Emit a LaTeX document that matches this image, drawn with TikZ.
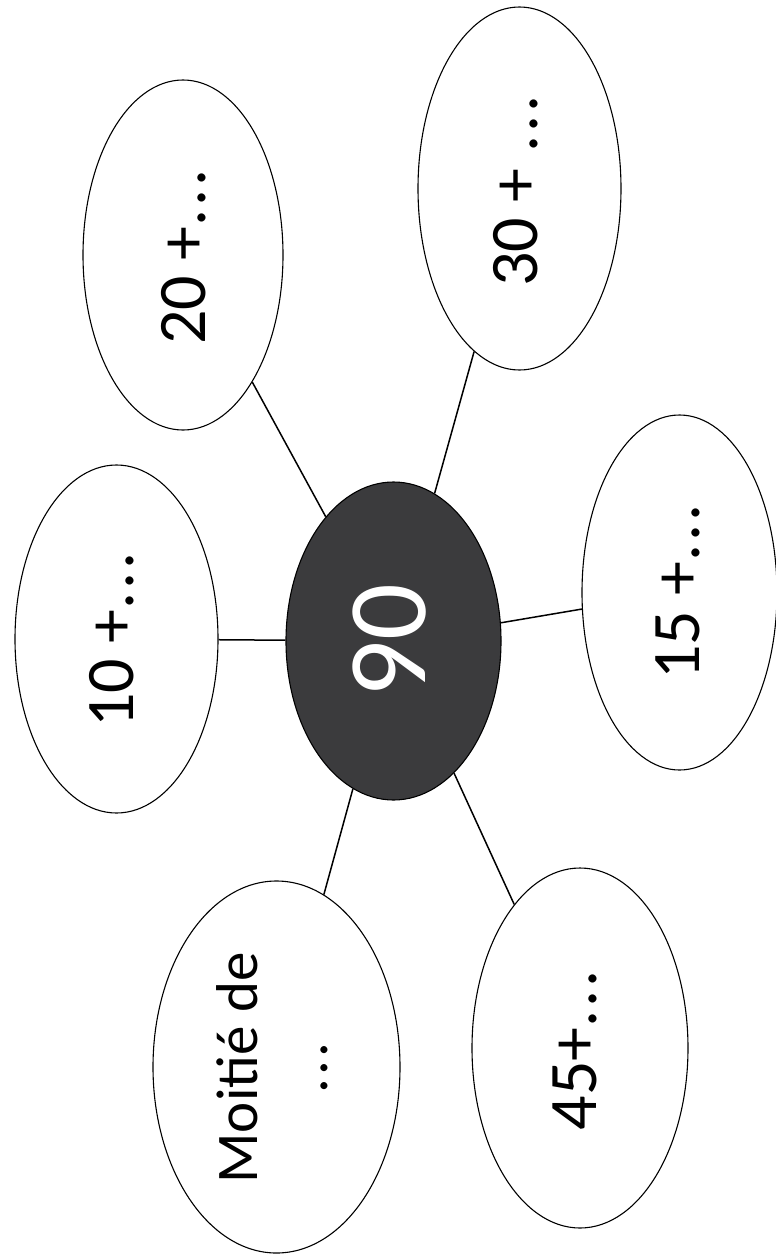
\documentclass[tikz,border=0pt]{standalone}
\usepackage{fontspec}
\setmainfont{Carlito}
\usetikzlibrary{shapes.geometric}
\definecolor{hubfill}{HTML}{3B3B3D}
\newcommand{\mydots}{.\kern3pt.\kern3pt.}
\tikzset{
  bub/.style={ellipse, draw=black, line width=1.1pt, fill=white, inner sep=0pt},
  hub/.style={ellipse, draw=black, line width=1.1pt, fill=hubfill, inner sep=0pt},
  lbl/.style={rotate=90, inner sep=0pt, font=\fontsize{68}{70}\selectfont},
  link/.style={line width=1.5pt, black},
}
\begin{document}
\begin{tikzpicture}[x=1pt,y=1pt]
\useasboundingbox (0,0) rectangle (776,-1255);
% ellipses
\node[hub, minimum width=215pt, minimum height=318pt] (c) at (393.5,-641) {};
\node[bub, minimum width=203pt, minimum height=348pt] (a) at (116.5,-639) {};
\node[bub, minimum width=200pt, minimum height=350pt] (b) at (183,-255) {};
\node[bub, minimum width=203pt, minimum height=363pt] (d) at (519.5,-188.5) {};
\node[bub, minimum width=195pt, minimum height=355pt] (e) at (679.5,-592.5) {};
\node[bub, minimum width=216pt, minimum height=360pt] (f) at (580,-1048) {};
\node[bub, minimum width=247pt, minimum height=372pt] (g) at (276.5,-1067) {};
% connectors
\draw[link] (c) -- (a);
\draw[link] (c) -- (b);
\draw[link] (c) -- (d);
\draw[link] (c) -- (e);
\draw[link] (c) -- (f);
\draw[link] (c) -- (g);
% labels
\node[lbl] (ta) at (111.5,-640) {10 +\mydots};
\node[lbl] (tb) at (184,-257) {20 +\mydots};
\node[lbl] (td) at (516,-191) {30 + \mydots};
\node[lbl] (te) at (678,-592) {15 +\mydots};
\node[lbl] (tf) at (575,-1050) {45+\mydots};
\node[rotate=90, inner sep=0pt, align=center, font=\fontsize{59}{70}\selectfont] (tg) at (272,-1068) {Moitié de\\\mydots};
\node[rotate=90, inner sep=0pt, text=white, font=\fontsize{112}{120}\selectfont] (tc) at (390,-641) {90};
\end{tikzpicture}
\end{document}
